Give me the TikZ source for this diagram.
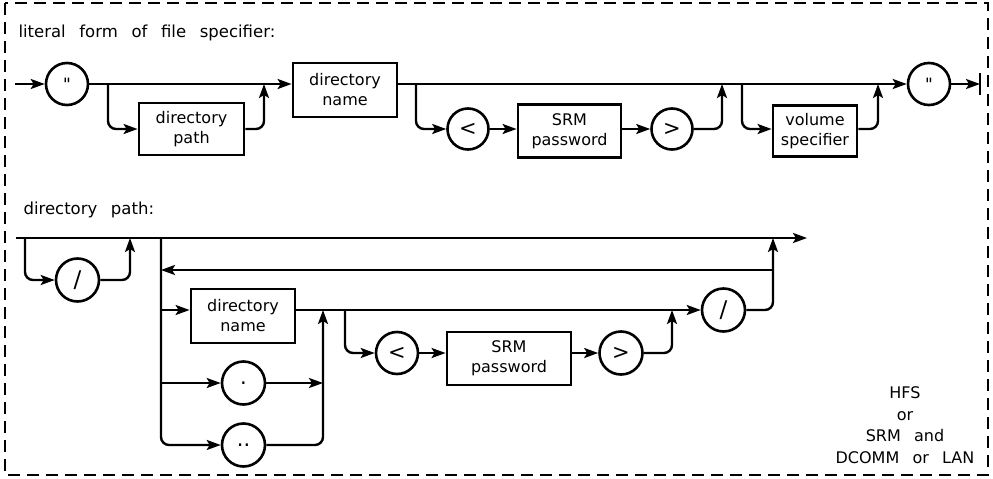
\documentclass[tikz,border=0pt]{standalone}
\usepackage{fontspec}
\setmainfont{DejaVu Sans}[WordSpace=2.6]
\setmonofont{DejaVu Sans Mono}
\usetikzlibrary{arrows.meta}
\begin{document}
\begin{tikzpicture}[x=1pt,y=-1pt,
  line/.style={line width=2.5pt},
  arr/.style={line width=2.4pt,-{Stealth[length=14pt,width=10pt,inset=3pt]}},
  term/.style={draw,line width=2.6pt,circle,minimum size=42pt,inner sep=0pt,font=\fontsize{17}{18}\selectfont},
  big/.style={font=\fontsize{21}{22}\selectfont},
  box/.style={draw,line width=2.8pt,rectangle,inner sep=0pt,align=center,font=\fontsize{16}{20}\selectfont},
  lbl/.style={font=\fontsize{16.5}{20}\selectfont},
  rc/.style={rounded corners=8pt}]
\useasboundingbox (0,0) rectangle (993,479);
\draw[dash pattern=on 12pt off 7pt, line width=1.7pt] (5,3) rectangle (988,475);
% ---------- top diagram ----------
\node[lbl,anchor=west] (t1) at (15,33) {literal form of file specifier:};
\coordinate (s1) at (15,84);
\node[term] (q1) at (67,84) {\ttfamily "};
\coordinate (j1) at (108,84);
\coordinate (j2) at (264,84);
\node[box,minimum width=105pt,minimum height=52pt] (dp) at (191.5,129) {directory\\path};
\node[box,minimum width=104pt,minimum height=54pt] (dn1) at (345,90) {directory\\name};
\coordinate (j3) at (416,84);
\node[term,big,minimum size=41pt] (lt1) at (468,129) {<};
\node[box,minimum width=103pt,minimum height=53pt] (srm1) at (569.5,131) {SRM\\password};
\node[term,big,minimum size=41pt] (gt1) at (672,129) {>};
\coordinate (j4) at (722,84);
\coordinate (j5) at (742,84);
\node[box,minimum width=84pt,minimum height=51pt] (vol) at (815,131) {volume\\specifier};
\coordinate (j6) at (878,84);
\node[term] (q2) at (929,84) {\ttfamily "};
\coordinate (e1) at (980,84);
\draw[arr] (s1) -- (q1);
\draw[arr] (q1) -- (q1 -| dn1.west);
\draw[arr,rc] (j1) |- (dp.west);
\draw[arr,rc] (dp.east) -| (j2);
\draw[arr] (dn1.east |- q2) -- (q2);
\draw[arr,rc] (j3) |- (lt1);
\draw[arr] (lt1) -- (lt1 -| srm1.west);
\draw[arr] (lt1 -| srm1.east) -- (gt1);
\draw[arr,rc] (gt1) -| (j4);
\draw[arr,rc] (j5) |- (vol.west |- lt1);
\draw[arr,rc] (vol.east |- lt1) -| (j6);
\draw[arr] (q2) -- (e1);
\draw[line] ([yshift=-11pt]e1) -- ([yshift=11pt]e1);
% ---------- bottom diagram ----------
\node[lbl,anchor=west] (t2) at (20,210) {directory path:};
\coordinate (s2) at (16,238);
\coordinate (e2) at (807,238);
\coordinate (j7) at (25,238);
\coordinate (j8) at (130,238);
\node[term,minimum size=43pt,font=\fontsize{23}{24}\selectfont] (sl1) at (77.5,280) {/};
\coordinate (v1) at (161,238);
\node[box,minimum width=104pt,minimum height=54pt] (dn2) at (243,316) {directory\\name};
\node[term,big,minimum size=43pt] (dot) at (243.5,383) {.};
\node[term,big,minimum size=43pt] (ddot) at (243.5,445) {..};
\coordinate (a1) at (161,310);
\coordinate (a2) at (161,383);
\coordinate (v2) at (323,310);
\coordinate (j9) at (345,310);
\node[term,big] (lt2) at (397,353) {<};
\node[box,minimum width=124pt,minimum height=53pt] (srm2) at (509,358.5) {SRM\\password};
\node[term,big,minimum size=43pt] (gt2) at (621,353) {>};
\coordinate (j10) at (672,310);
\node[term,minimum size=43pt,font=\fontsize{23}{24}\selectfont] (sl2) at (723.5,310) {/};
\coordinate (v3) at (773,238);
\coordinate (b1) at (773,270);
\draw[arr] (s2) -- (e2);
\draw[arr,rc] (j7) |- (sl1);
\draw[arr,rc] (sl1) -| (j8);
\draw[arr,rc] (v1) |- (ddot);
\draw[arr] (a1) -- (a1 -| dn2.west);
\draw[arr] (a2) -- (dot);
\draw[arr] (dot) -- (dot -| v2);
\draw[arr,rc] (ddot) -| (v2);
\draw[arr] (dn2.east |- sl2) -- (sl2);
\draw[arr,rc] (j9) |- (lt2);
\draw[arr] (lt2) -- (lt2 -| srm2.west);
\draw[arr] (lt2 -| srm2.east) -- (gt2);
\draw[arr,rc] (gt2) -| (j10);
\draw[arr,rc] (sl2) -| (v3);
\draw[arr] (b1) -- (b1 -| v1);
\node[align=center,font=\fontsize{16}{21.5}\selectfont] (hfs) at (905,425) {HFS\\or\\SRM and\\DCOMM or LAN};
\end{tikzpicture}
\end{document}
